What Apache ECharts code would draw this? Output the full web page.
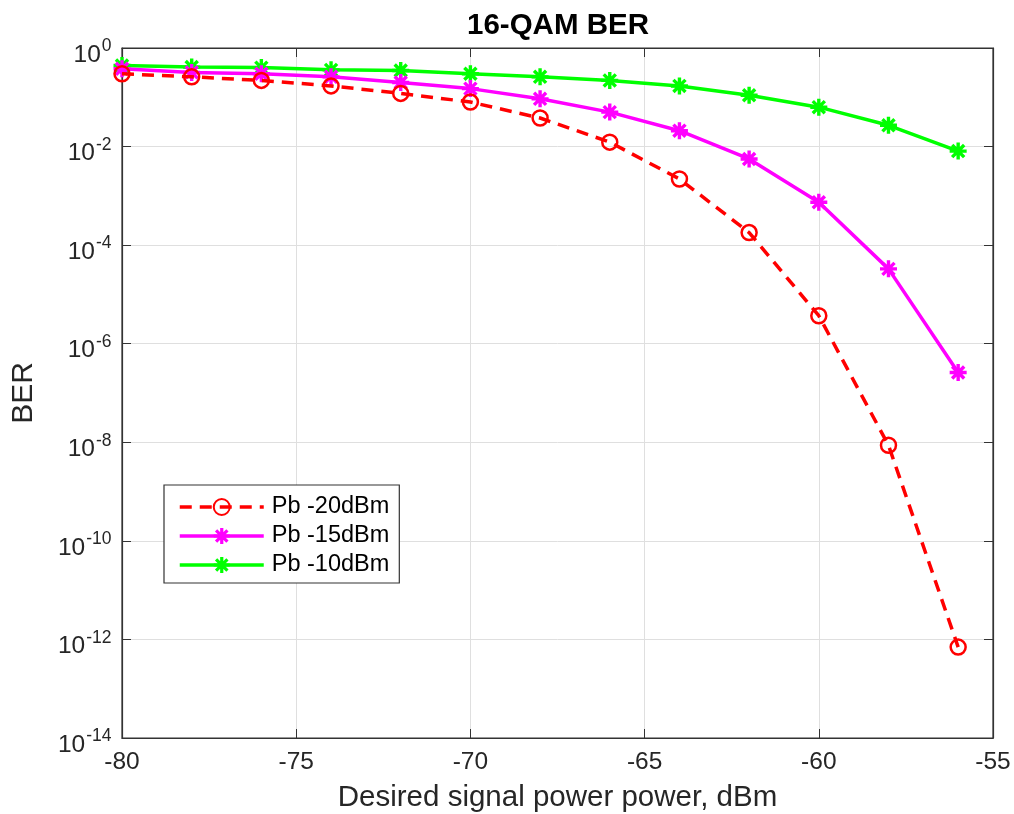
<!DOCTYPE html>
<html>
<head>
<meta charset="utf-8">
<script src="https://cdn.jsdelivr.net/npm/echarts@6/dist/echarts.min.js"></script>
<style>html,body{margin:0;padding:0;background:#fff}#c{width:1014px;height:814px}</style>
</head>
<body>
<div id="c"></div>
<script>
var xValues = [-80, -78, -76, -74, -72, -70, -68, -66, -64, -62, -60, -58, -56];
var berPb20 = [0.30, 0.26, 0.22, 0.17, 0.12, 0.08, 0.038, 0.0123, 0.0022, 1.8e-4, 3.7e-6, 8.7e-9, 7e-13];
var berPb15 = [0.38, 0.32, 0.30, 0.26, 0.20, 0.15, 0.093, 0.050, 0.021, 0.0056, 7.4e-4, 3.3e-5, 2.6e-7];
var berPb10 = [0.44, 0.41, 0.40, 0.36, 0.35, 0.30, 0.26, 0.22, 0.17, 0.11, 0.063, 0.027, 0.0081];
var seriesNames = ['Pb -20dBm', 'Pb -15dBm', 'Pb -10dBm'];
var xTicks = [-80, -75, -70, -65, -60, -55];

function pairs(ys) { return xValues.map(function (x, i) { return [x, ys[i]]; }); }

var star = 'path://M-1.2,-6L1.2,-6L1.2,6L-1.2,6Z M-6,-1.2L6,-1.2L6,1.2L-6,1.2Z M-3.4,-5.1L5.1,3.4L3.4,5.1L-5.1,-3.4Z M3.4,-5.1L5.1,-3.4L-3.4,5.1L-5.1,3.4Z';
var FONT = '"Liberation Sans", Arial, Helvetica, sans-serif';
var AX = '#262626';

var chart = echarts.init(document.getElementById('c'), null, { renderer: 'canvas' });
chart.setOption({
  animation: false,
  backgroundColor: '#fff',
  textStyle: { fontFamily: FONT },
  title: {
    text: '16-QAM BER', left: 462, top: 6,
    textStyle: { fontFamily: FONT, fontSize: 29.5, fontWeight: 'bold', color: '#000' }
  },
  grid: { left: 122, right: 21, top: 48, bottom: 76, show: true, borderColor: '#333', borderWidth: 1.2,
    containLabel: false, outerBoundsMode: 'none' },
  legend: {
    orient: 'vertical', left: 164, top: 485,
    data: [
      { name: seriesNames[0], lineStyle: { width: 3.5, type: [12, 8] } },
      { name: seriesNames[1], lineStyle: { width: 3.5 } },
      { name: seriesNames[2], lineStyle: { width: 3.5 } }
    ],
    itemWidth: 84, itemHeight: 20, itemGap: 5,
    padding: [10, 10, 6, 14],
    borderColor: '#333', borderWidth: 1.2, backgroundColor: '#fff',
    textStyle: { fontFamily: FONT, fontSize: 23.5, lineHeight: 24, color: '#000', padding: [0, 0, 0, 3] }
  },
  xAxis: [{
    type: 'value', min: -80, max: -55, interval: 5,
    name: 'Desired signal power power, dBm', nameLocation: 'middle', nameGap: 45,
    nameTextStyle: { fontFamily: FONT, fontSize: 29.5, color: AX },
    axisLine: { lineStyle: { color: '#333', width: 1.2 } },
    axisTick: { inside: true, length: 9, lineStyle: { color: '#333' } },
    axisLabel: { fontFamily: FONT, fontSize: 24.5, color: AX, margin: 12,
      formatter: function (v) { return xTicks.indexOf(v) >= 0 ? String(v) : ''; } },
    splitLine: { show: true, lineStyle: { color: '#dfdfdf', width: 1 } }
  }, {
    type: 'value', position: 'top', min: -80, max: -55, interval: 5,
    axisLine: { show: true, lineStyle: { color: '#333', width: 1.2 } },
    axisTick: { inside: true, length: 9, lineStyle: { color: '#333' } },
    axisLabel: { show: false }, splitLine: { show: false }
  }],
  yAxis: [{
    type: 'log', logBase: 10, min: 1e-14, max: 1, interval: 2,
    name: 'BER', nameLocation: 'middle', nameGap: 83,
    nameTextStyle: { fontFamily: FONT, fontSize: 30, color: AX },
    axisLine: { show: true, lineStyle: { color: '#333', width: 1.2 } },
    axisTick: { inside: true, length: 9, lineStyle: { color: '#333' } },
    minorTick: { show: false },
    axisLabel: {
      margin: 10.5, color: AX,
      formatter: function (v) {
        var e = Math.round(Math.log10(v));
        return '{b|10}{s|' + e + '}';
      },
      rich: {
        b: { fontFamily: FONT, fontSize: 24.5, lineHeight: 24.5, color: AX, padding: [14, 0, 0, 0] },
        s: { fontFamily: FONT, fontSize: 17.5, lineHeight: 17.5, color: AX, padding: [0, 0, 3, 1] }
      }
    },
    splitLine: { show: true, lineStyle: { color: '#dfdfdf', width: 1 } }
  }, {
    type: 'log', logBase: 10, min: 1e-14, max: 1, interval: 2, position: 'right',
    axisLine: { show: true, lineStyle: { color: '#333', width: 1.2 } },
    axisTick: { inside: true, length: 9, lineStyle: { color: '#333' } },
    axisLabel: { show: false }, splitLine: { show: false }
  }],
  series: [{
    name: seriesNames[0], type: 'line', data: pairs(berPb20),
    symbol: 'circle', symbolSize: 15,
    lineStyle: { color: '#ff0000', width: 3.5, type: [12, 8] },
    itemStyle: { color: 'rgba(255,255,255,0)', borderColor: '#ff0000', borderWidth: 2.5 },
    z: 4
  }, {
    name: seriesNames[1], type: 'line', data: pairs(berPb15),
    symbol: star, symbolSize: 17,
    lineStyle: { color: '#ff00ff', width: 3.5 },
    itemStyle: { color: '#ff00ff' },
    z: 3
  }, {
    name: seriesNames[2], type: 'line', data: pairs(berPb10),
    symbol: star, symbolSize: 17,
    lineStyle: { color: '#00ff00', width: 3.5 },
    itemStyle: { color: '#00ff00' },
    z: 2
  }]
});
</script>
</body>
</html>
